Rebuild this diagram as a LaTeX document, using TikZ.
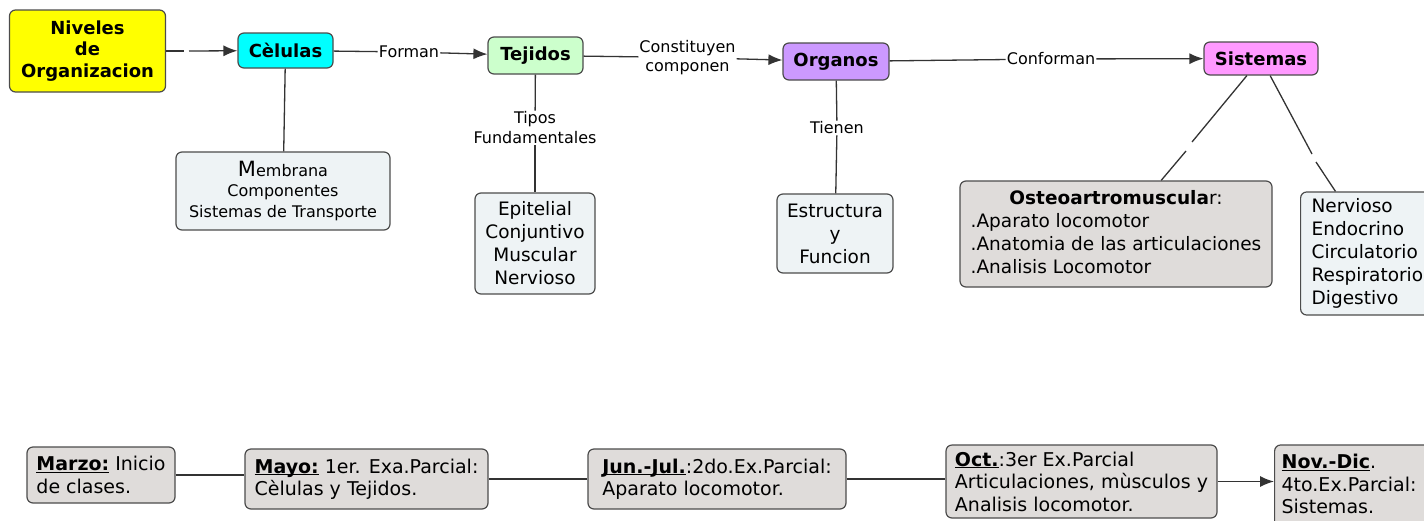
\documentclass[tikz,border=0pt]{standalone}
\usepackage{fontspec}
\setmainfont{DejaVu Sans}
\usepackage{xcolor}
\usepackage{tikz}
\usetikzlibrary{arrows.meta}
\usetikzlibrary{shapes.misc}
\usetikzlibrary{positioning}

\definecolor{nivyellow}{HTML}{FFFF00}
\definecolor{celcyan}{HTML}{00FFFF}
\definecolor{tejgreen}{HTML}{CCFFCC}
\definecolor{orgpurple}{HTML}{CC99FF}
\definecolor{sispink}{HTML}{FF99FF}
\definecolor{infoblue}{HTML}{EEF3F5}
\definecolor{dategrey}{HTML}{DFDCDA}

\newcommand{\monthtag}[1]{\underline{\smash{\textbf{#1}}}}

\begin{document}
\begin{tikzpicture}[x=1pt,y=-1pt,
  box/.style={draw=black!70, line width=1.2pt, rounded corners=6pt, inner sep=0pt},
  title/.style={box, font=\fontsize{18}{21.7}\selectfont\bfseries, align=center},
  info/.style={box, fill=infoblue, font=\fontsize{18.5}{23}\selectfont, align=center},
  datebox/.style={box, fill=dategrey, font=\fontsize{19}{22.5}\selectfont, align=left},
  link/.style={font=\fontsize{16}{19.5}\selectfont, align=center, inner sep=1pt},
  conn/.style={draw=black!80, line width=1.3pt},
  arr/.style={conn, -{Latex[length=14pt,width=11pt]}}]
\useasboundingbox (0,0) rectangle (1424,520);
\clip (0,0) rectangle (1424,520);

% top row
\node [title, fill=nivyellow, minimum width=156, minimum height=82] (niv) at (87.5,51) {Niveles\\de\\Organizacion};
\node [title, fill=celcyan, minimum width=95, minimum height=35] (cel) at (285.5,50.5) {Cèlulas};
\node [title, fill=tejgreen, minimum width=95, minimum height=37] (tej) at (535.5,55.5) {Tejidos};
\node [title, fill=orgpurple, minimum width=106, minimum height=37] (org) at (836,61.5) {Organos};
\node [title, fill=sispink, minimum width=114, minimum height=33] (sis) at (1261,58.5) {Sistemas};

% linking words
\node [link] (forman) at (409,52) {Forman};
\node [link] (const) at (687.5,57.5) {Constituyen\\componen};
\node [link] (conf) at (1051,59) {Conforman};
\node [link, font=\fontsize{16}{20}\selectfont] (tipos) at (535,128) {Tipos\\Fundamentales};
\node [link] (tienen) at (837,128) {Tienen};

% detail boxes
\node [info, font=\fontsize{16}{20.5}\selectfont, minimum width=214, minimum height=78] (memb) at (283,191)
  {{\fontsize{21}{20.5}\selectfont M}embrana\\Componentes\\Sistemas de Transporte};
\node [info, minimum width=120, minimum height=101] (epi) at (535,243.5) {Epitelial\\Conjuntivo\\Muscular\\Nervioso};
\node [info, minimum width=116, minimum height=79] (est) at (835,233.5) {Estructura\\y\\Funcion};
\node [info, fill=dategrey, minimum width=312, minimum height=106] (ost) at (1116,234)
  {\begin{tabular}{@{}l@{}}\multicolumn{1}{@{}c@{}}{\textbf{Osteoartromuscula}r:}\\.Aparato locomotor\\.Anatomia de las articulaciones\\.Analisis Locomotor\end{tabular}};
\node [info, align=left, text width=130, anchor=west, inner xsep=11pt, minimum height=123] (ner) at (1300,253.5)
  {Nervioso\\Endocrino\\Circulatorio\\Respiratorio\\Digestivo};

% free ends of the broken links
\coordinate (g1) at (184,51);
\coordinate (g2) at (189,51);
\coordinate (s1) at (1192,142);
\coordinate (s2) at (1186,151);
\coordinate (s3) at (1312,154);
\coordinate (s4) at (1316,162);

\draw [conn] (niv) -- (g1);
\draw [arr] (g2) -- (cel);
\draw [conn] (cel) -- (forman);
\draw [arr] (forman) -- (tej);
\draw [conn] (tej) -- (const);
\draw [arr] (const) -- (org);
\draw [conn] (org) -- (conf);
\draw [arr] (conf) -- (sis);
\draw [conn] (cel) -- (memb);
\draw [conn] (tej) -- (tipos);
\draw [conn] (tipos) -- (epi);
\draw [conn] (org) -- (tienen);
\draw [conn] (tienen) -- (est);
\draw [conn] (sis) -- (s1);
\draw [conn] (s2) -- (ost);
\draw [conn] (sis) -- (s3);
\draw [conn] (s4) -- (ner);

% calendar
\node [datebox, minimum width=148, minimum height=56] (marzo) at (101,475) {\monthtag{Marzo:} Inicio\\de clases.};
\node [datebox, minimum width=243, minimum height=60] (mayo) at (366.5,479) {\monthtag{Mayo:} 1er. Exa.Parcial:\\Cèlulas y Tejidos.};
\node [datebox, minimum width=258, minimum height=60] (jun) at (717,479) {\monthtag{Jun.-Jul.}:2do.Ex.Parcial:\\Aparato locomotor.};
\node [datebox, minimum width=271, minimum height=73] (oct) at (1081.5,481.5) {\monthtag{Oct.}:3er Ex.Parcial\\Articulaciones, mùsculos y\\Analisis locomotor.};
\node [datebox, anchor=west, text width=180, inner xsep=7pt, minimum height=90] (nov) at (1274,490) {\monthtag{Nov.-Dic}.\\4to.Ex.Parcial:\\Sistemas.};

\draw [conn] (marzo.east) -- (marzo.east -| mayo.west);
\draw [conn] (mayo.east) -- (mayo.east -| jun.west);
\draw [conn] (jun.east) -- (jun.east -| oct.west);
\draw [arr] (oct.east) -- (oct.east -| nov.west);
\end{tikzpicture}
\end{document}
